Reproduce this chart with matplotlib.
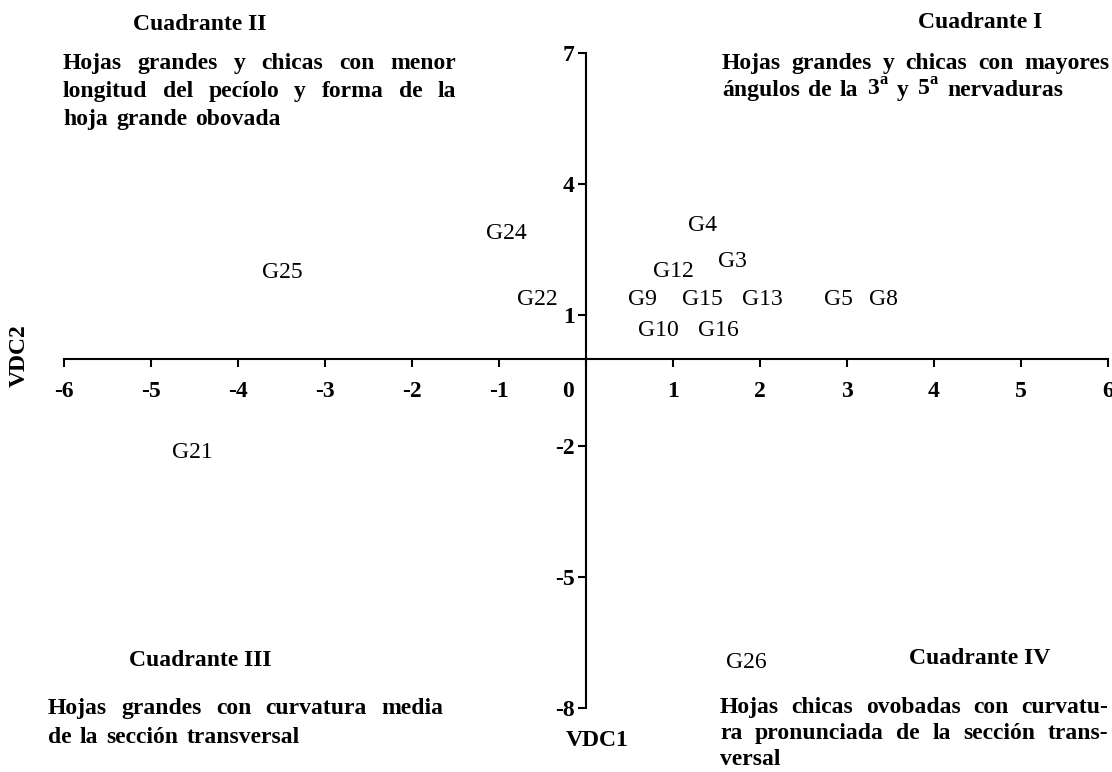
import matplotlib
matplotlib.use('Agg')
import matplotlib.pyplot as plt
from matplotlib.transforms import IdentityTransform

W, H = 1112, 772
SERIF = 'Liberation Serif'
plt.rcParams['mathtext.fontset'] = 'custom'
plt.rcParams['mathtext.rm'] = 'Liberation Serif'
plt.rcParams['mathtext.bf'] = 'Liberation Serif:bold'

# ---- data ----
genotypes = ['G24', 'G25', 'G22', 'G4', 'G3', 'G12', 'G9', 'G15', 'G13',
             'G5', 'G8', 'G10', 'G16', 'G21', 'G26']
vdc1 = [-0.91, -3.49, -0.56, 1.34, 1.68, 1.00, 0.65, 1.34, 2.03,
        2.90, 3.42, 0.83, 1.52, -4.53, 1.84]
vdc2 = [2.86, 1.97, 1.35, 3.04, 2.22, 2.00, 1.35, 1.35, 1.35,
        1.35, 1.35, 0.64, 0.64, -2.15, -6.96]
xticks = [-6, -5, -4, -3, -2, -1, 0, 1, 2, 3, 4, 5, 6]
yticks = [7, 4, 1, -2, -5, -8]

quad_titles = ['Cuadrante I', 'Cuadrante II', 'Cuadrante III', 'Cuadrante IV']
quad_text = {
    'Cuadrante I': ['Hojas grandes y chicas con mayores',
                    r'ángulos de la 3$^{\mathbf{a}}$ y 5$^{\mathbf{a}}$ nervaduras'],
    'Cuadrante II': ['Hojas grandes y chicas con menor',
                     'longitud del pecíolo y forma de la',
                     'hoja grande obovada'],
    'Cuadrante III': ['Hojas grandes con curvatura media',
                      'de la sección transversal'],
    'Cuadrante IV': ['Hojas chicas ovobadas con curvatu-',
                     'ra pronunciada de la sección trans-',
                     'versal'],
}

FS = 17

fig = plt.figure(figsize=(W / 100, H / 100), dpi=100)
ax = fig.add_axes([64 / W, (H - 708) / H, (1108 - 64) / W, (708 - 53) / H])
ax.set_xlim(-6, 6)
ax.set_ylim(-8, 7)

for s in ['top', 'right']:
    ax.spines[s].set_visible(False)
ax.spines['left'].set_position(('data', 0))
ax.spines['bottom'].set_position(('data', 0))
for s in ['left', 'bottom']:
    ax.spines[s].set_linewidth(1.5)

ax.set_xticks(xticks)
ax.set_xticklabels(['' if v == 0 else str(v) for v in xticks],
                   fontsize=FS, fontweight='bold', family=SERIF)
ax.set_yticks(yticks)
ax.set_yticklabels([str(v) for v in yticks],
                   fontsize=FS, fontweight='bold', family=SERIF)
ax.tick_params(axis='x', direction='out', length=6, width=1.5, pad=10)
ax.tick_params(axis='y', direction='out', length=6, width=1.5, pad=2)

# zero label shifted left as in the original
ax.annotate('0', xy=(-0.21, 0), xytext=(0, -16.0), textcoords='offset points',
            ha='center', va='top', fontsize=FS, fontweight='bold', family=SERIF)

# point labels
for g, x, y in zip(genotypes, vdc1, vdc2):
    ax.text(x, y, g, ha='center', va='center', fontsize=FS, family=SERIF)

# axis titles
ident = IdentityTransform()
fig.text(19, H - 356, 'VDC2', rotation=90, ha='center', va='center',
         fontsize=FS, fontweight='bold', family=SERIF, transform=ident)
fig.text(597, H - 740, 'VDC1', ha='center', va='center',
         fontsize=FS, fontweight='bold', family=SERIF, transform=ident)

# quadrant titles (pixel positions)
title_pos = {'Cuadrante I': (980, 23), 'Cuadrante II': (200, 25),
             'Cuadrante III': (200, 660), 'Cuadrante IV': (980, 658)}
for t in quad_titles:
    px, py = title_pos[t]
    fig.text(px, H - py, t, ha='center', va='center', fontsize=FS,
             fontweight='bold', family=SERIF, transform=ident)

# justified paragraphs: (left, right, first line center, line step)
para_box = {'Cuadrante I': (722, 1109, 63, 27),
            'Cuadrante II': (63, 456, 63, 28),
            'Cuadrante III': (48, 443, 708, 29),
            'Cuadrante IV': (720, 1108, 707, 26)}

fig.canvas.draw()
renderer = fig.canvas.get_renderer()
for t in quad_titles:
    left, right, y0, step = para_box[t]
    lines = quad_text[t]
    for i, line in enumerate(lines):
        ybase = H - (y0 + i * step) - 6
        last = (i == len(lines) - 1)
        words = line.split(' ')
        if last:
            # last line: natural spacing, slightly widened like the original
            objs = [fig.text(0, ybase, w, ha='left', va='baseline', fontsize=FS,
                             fontweight='bold', family=SERIF, transform=ident)
                    for w in words]
            widths = [o.get_window_extent(renderer).width for o in objs]
            sp = fig.text(0, 0, 'a a', fontsize=FS, fontweight='bold', family=SERIF,
                          transform=ident)
            sp2 = fig.text(0, 0, 'aa', fontsize=FS, fontweight='bold', family=SERIF,
                           transform=ident)
            gap = (sp.get_window_extent(renderer).width -
                   sp2.get_window_extent(renderer).width) * 1.4
            sp.remove(); sp2.remove()
            x = left
            for o, w in zip(objs, widths):
                o.set_x(x)
                x += w + gap
            continue
        objs = [fig.text(0, ybase, w, ha='left', va='baseline', fontsize=FS,
                         fontweight='bold', family=SERIF, transform=ident)
                for w in words]
        widths = [o.get_window_extent(renderer).width for o in objs]
        gap = (right - left - sum(widths)) / (len(words) - 1)
        x = left
        for o, w in zip(objs, widths):
            o.set_x(x)
            x += w + gap

fig.savefig('out.png', dpi=100)
